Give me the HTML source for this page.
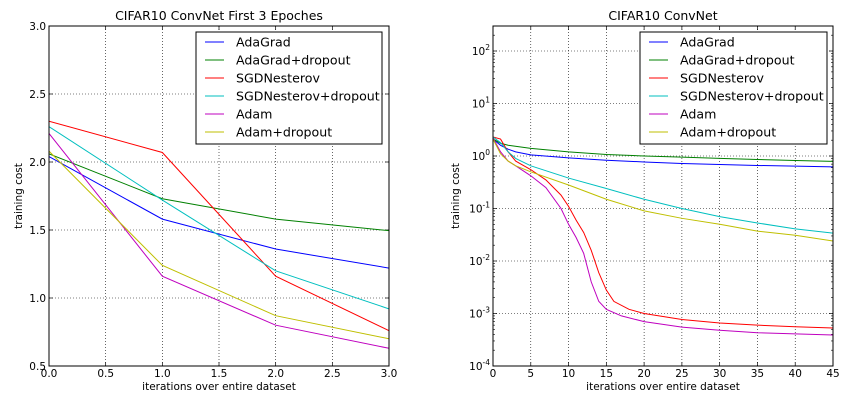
<!DOCTYPE html>
<html><head><meta charset="utf-8"><style>
html,body{margin:0;padding:0;background:#fff;}
svg{display:block;font-family:"DejaVu Sans","Liberation Sans",sans-serif;}
</style></head><body>
<svg id="chart" width="849" height="400" xmlns="http://www.w3.org/2000/svg"></svg>
<script>
const seriesNames = ["AdaGrad","AdaGrad+dropout","SGDNesterov","SGDNesterov+dropout","Adam","Adam+dropout"];
const seriesColors = ["#0000ff","#008000","#ff0000","#00bfbf","#bf00bf","#bfbf00"];
// Left chart data
const leftX = [0,1,2,3];
const leftAdaGrad = [2.04,1.58,1.36,1.22];
const leftAdaGradDrop = [2.06,1.73,1.58,1.495];
const leftSGD = [2.3,2.07,1.16,0.76];
const leftSGDDrop = [2.26,1.72,1.2,0.92];
const leftAdam = [2.21,1.16,0.8,0.63];
const leftAdamDrop = [2.08,1.24,0.87,0.7];
const leftXTicks = ["0.0","0.5","1.0","1.5","2.0","2.5","3.0"];
const leftYTicks = ["0.5","1.0","1.5","2.0","2.5","3.0"];
// Right chart data
const rAdaGradX = [0,1,2,3,5,10,15,20,25,30,35,40,45];
const rAdaGradY = [2.1,1.6,1.35,1.2,1.05,0.92,0.83,0.77,0.72,0.69,0.66,0.64,0.62];
const rAdaGradDropX = [0,1,2,5,10,15,20,25,30,35,40,45];
const rAdaGradDropY = [2.1,1.75,1.6,1.4,1.2,1.07,1.0,0.95,0.9,0.86,0.82,0.79];
const rSGDX = [0,1,2,3,5,7,9,10,11,12,13,14,15,16,18,20,25,30,35,40,45];
const rSGDY = [2.3,2.1,1.2,0.8,0.55,0.35,0.18,0.11,0.06,0.035,0.016,0.006,0.0028,0.0017,0.0012,0.001,0.00077,0.00066,0.0006,0.00056,0.00053];
const rSGDDropX = [0,1,2,3,5,10,15,20,25,30,35,40,45];
const rSGDDropY = [2.3,1.8,1.2,0.9,0.65,0.38,0.24,0.15,0.1,0.07,0.053,0.041,0.034];
const rAdamX = [0,1,2,3,5,7,9,10,11,12,13,14,15,17,20,25,30,35,40,45];
const rAdamY = [2.2,1.2,0.8,0.65,0.42,0.25,0.1,0.05,0.028,0.014,0.004,0.0017,0.0012,0.0009,0.0007,0.00055,0.00048,0.00043,0.00041,0.00039];
const rAdamDropX = [0,1,2,3,5,10,15,20,25,30,35,40,45];
const rAdamDropY = [2.1,1.1,0.8,0.65,0.5,0.28,0.15,0.09,0.065,0.05,0.037,0.031,0.024];
const rightXTicks = ["0","5","10","15","20","25","30","35","40","45"];
const rightYExp = ["-4","-3","-2","-1","0","1","2"];

const NS="http://www.w3.org/2000/svg";
const svg=document.getElementById('chart');
function mk(tag,attrs,parent){const e=document.createElementNS(NS,tag);for(const k in attrs)e.setAttribute(k,attrs[k]);(parent||svg).appendChild(e);return e;}

function drawPanel(cfg){
  const g=mk('g',{});
  
  
  const L=cfg.x0,R=cfg.x1,T=26,B=366;
  cfg.xt.forEach((lab)=>{
    const v=parseFloat(lab);const px=cfg.sx(v);
    if(px>L+0.5&&px<R-0.5){const gl=mk('line',{x1:px,x2:px,y1:T,y2:B,stroke:'#000','stroke-width':0.6,'stroke-dasharray':'1,2'},g);}
    mk('line',{x1:px,x2:px,y1:B,y2:B-4,stroke:'#000','stroke-width':0.7},g);
    mk('line',{x1:px,x2:px,y1:T,y2:T+4,stroke:'#000','stroke-width':0.7},g);
    const t=mk('text',{x:px,y:B+11,'font-size':10.5,'text-anchor':'middle'},g);t.textContent=lab;
    
  });
  cfg.yt.forEach((lab)=>{
    const v=cfg.log?Math.pow(10,parseFloat(lab)):parseFloat(lab);const py=cfg.sy(v);
    if(py>T+0.5&&py<B-0.5){const gl=mk('line',{x1:L,x2:R,y1:py,y2:py,stroke:'#000','stroke-width':0.6,'stroke-dasharray':'1,2'},g);}
    mk('line',{x1:L,x2:L+4,y1:py,y2:py,stroke:'#000','stroke-width':0.7},g);
    mk('line',{x1:R,x2:R-4,y1:py,y2:py,stroke:'#000','stroke-width':0.7},g);
    const t=mk('text',{x:L-3,y:py+4,'font-size':10.5,'text-anchor':'end'},g);
    if(cfg.log){t.textContent='10';const s=mk('tspan',{dy:-5,'font-size':7.5},t);s.textContent=lab;}
    else t.textContent=lab;
    
  });
  if(cfg.log){
    for(let e=-4;e<3;e++)for(let m=2;m<10;m++){const v=m*Math.pow(10,e);const py=cfg.sy(v);if(py<T)continue;
      mk('line',{x1:L,x2:L+2,y1:py,y2:py,stroke:'#000','stroke-width':0.6},g);
      mk('line',{x1:R,x2:R-2,y1:py,y2:py,stroke:'#000','stroke-width':0.6},g);}
  }
  const clip='clip-'+cfg.name;
  const cp=mk('clipPath',{id:clip},g);mk('rect',{x:L,y:T,width:R-L,height:B-T},cp);
  cfg.series.forEach((s,i)=>{
    const d=s.x.map((xv,j)=>(j?'L':'M')+cfg.sx(xv).toFixed(2)+','+cfg.sy(s.y[j]).toFixed(2)).join(' ');
    const p=mk('path',{d:d,fill:'none',stroke:seriesColors[i],'stroke-width':1,'clip-path':'url(#'+clip+')'},g);
    
    
  });
  const fr=mk('rect',{x:L,y:T,width:R-L,height:B-T,fill:'none',stroke:'#000','stroke-width':1},g);
  
  const ti=mk('text',{x:(L+R)/2,y:20,'font-size':12.5,'text-anchor':'middle'},g);ti.textContent=cfg.title;
  
  const xl=mk('text',{x:(L+R)/2,y:390,'font-size':10.5,'text-anchor':'middle'},g);xl.textContent='iterations over entire dataset';
  
  const yl=mk('text',{x:0,y:0,'font-size':10.5,'text-anchor':'middle',transform:'translate('+(cfg.yTitleX)+',196) rotate(-90)'},g);yl.textContent='training cost';
  
  const lg=mk('g',{},g);
  mk('rect',{x:cfg.lx,y:32,width:cfg.lw,height:112,fill:'#fff',stroke:'#000','stroke-width':1},lg);
  seriesNames.forEach((n,i)=>{
    const yy=42+i*18;
    const e=mk('g',{},lg);
    mk('line',{x1:cfg.lx+9,x2:cfg.lx+28,y1:yy,y2:yy,stroke:seriesColors[i],'stroke-width':1},e);
    const t=mk('text',{x:cfg.lx+40,y:yy+4.5,'font-size':12.6},e);t.textContent=n;
  });
}
const lx=v=>49+v/3*340, ly=v=>366-(v-0.5)/2.5*340;
drawPanel({name:'left-panel',title:'CIFAR10 ConvNet First 3 Epoches',x0:49,x1:389,sx:lx,sy:ly,xt:leftXTicks,yt:leftYTicks,log:false,lx:196,lw:186,yTitleX:22,
  series:[{x:leftX,y:leftAdaGrad},{x:leftX,y:leftAdaGradDrop},{x:leftX,y:leftSGD},{x:leftX,y:leftSGDDrop},{x:leftX,y:leftAdam},{x:leftX,y:leftAdamDrop}]});
const rx=v=>493+v/45*340, ry=v=>156-52.5*Math.log10(v);
drawPanel({name:'right-panel',title:'CIFAR10 ConvNet',x0:493,x1:833,sx:rx,sy:ry,xt:rightXTicks,yt:rightYExp,log:true,lx:640,lw:187,yTitleX:459,
  series:[{x:rAdaGradX,y:rAdaGradY},{x:rAdaGradDropX,y:rAdaGradDropY},{x:rSGDX,y:rSGDY},{x:rSGDDropX,y:rSGDDropY},{x:rAdamX,y:rAdamY},{x:rAdamDropX,y:rAdamDropY}]});
</script>
</body></html>
